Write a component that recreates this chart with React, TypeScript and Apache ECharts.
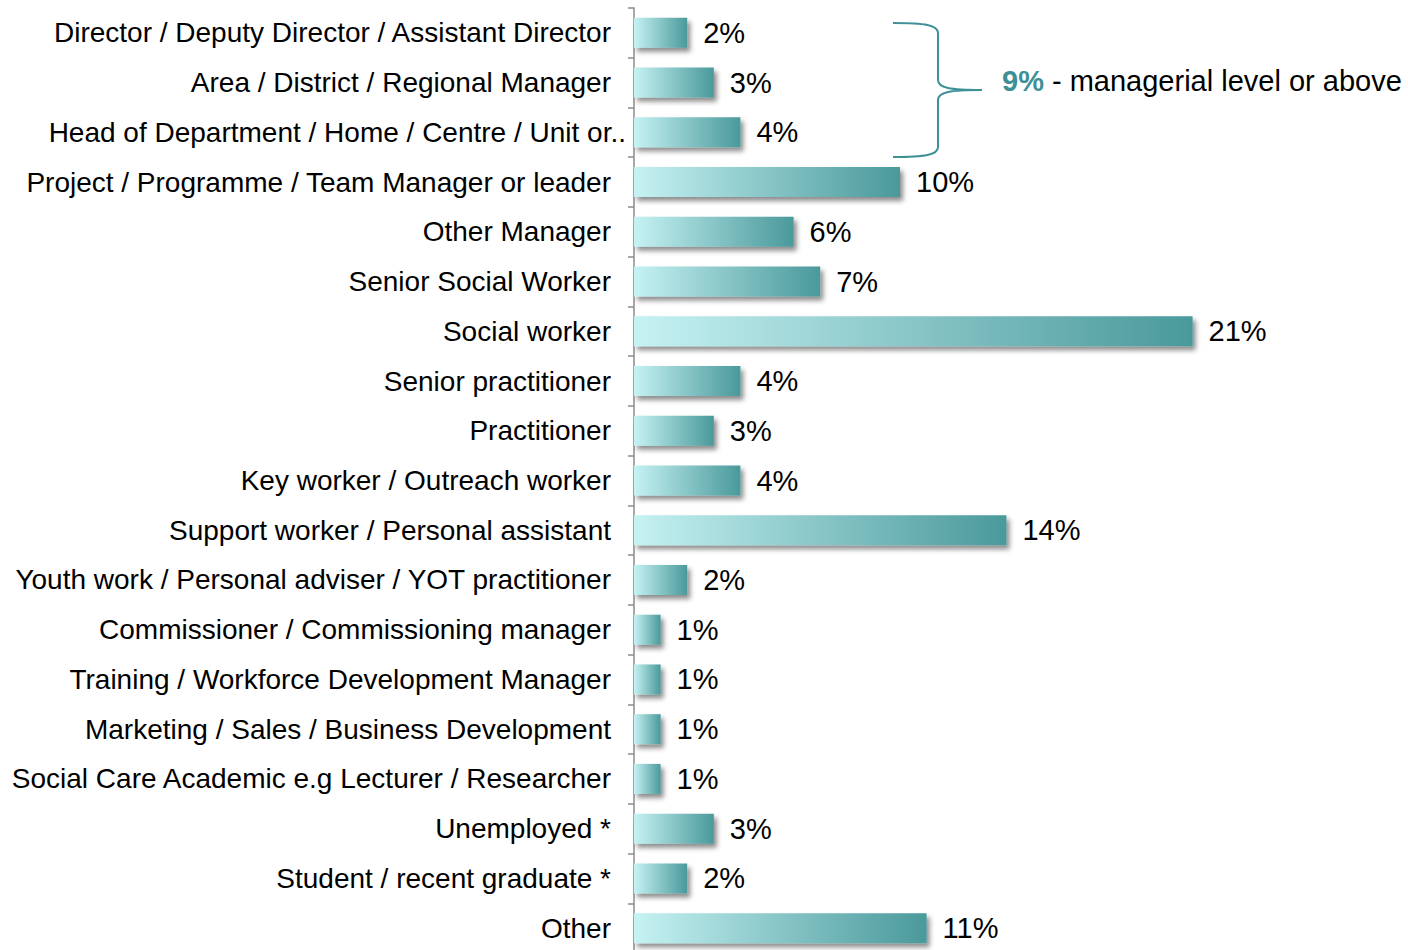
import React, { useEffect, useRef } from "react";
import * as echarts from "echarts";

const categories: string[] = [
  "Director / Deputy Director / Assistant Director",
  "Area / District / Regional Manager",
  "Head of Department / Home / Centre / Unit or..",
  "Project / Programme / Team Manager or leader",
  "Other Manager",
  "Senior Social Worker",
  "Social worker",
  "Senior practitioner",
  "Practitioner",
  "Key worker / Outreach worker",
  "Support worker / Personal assistant",
  "Youth work / Personal adviser / YOT practitioner",
  "Commissioner / Commissioning manager",
  "Training / Workforce Development Manager",
  "Marketing / Sales / Business Development",
  "Social Care Academic e.g Lecturer / Researcher",
  "Unemployed *",
  "Student / recent graduate *",
  "Other",
];

const values: number[] = [2, 3, 4, 10, 6, 7, 21, 4, 3, 4, 14, 2, 1, 1, 1, 1, 3, 2, 11];

const annotationValue = "9%";
const annotationText = " - managerial level or above";

const bracePath =
  "M893,23 C925,23 938,25 938,33 L938,80 C938,88 950,90 982,90 C950,90 938,92 938,100 L938,147 C938,155 925,157 893,157";

const FONT = "'Liberation Sans', Arial, sans-serif";

export default function App() {
  const ref = useRef<HTMLDivElement>(null);

  useEffect(() => {
    if (!ref.current) return;
    echarts.graphic.registerShape("brace", echarts.graphic.extendPath(bracePath, {}) as any);
    const chart = echarts.init(ref.current, null, { renderer: "svg" });
    chart.setOption({
      animation: false,
      backgroundColor: "#ffffff",
      textStyle: { fontFamily: FONT },
      grid: { left: 634, top: 8, height: 945, width: 665 },
      xAxis: {
        type: "value",
        min: 0,
        max: 25,
        show: false,
        splitLine: { show: false },
      },
      yAxis: {
        type: "category",
        inverse: true,
        data: categories,
        axisLine: { show: true, lineStyle: { color: "#8c8c8c", width: 1.5 } },
        axisTick: { show: true, length: 6, lineStyle: { color: "#8c8c8c", width: 1.5 } },
        axisLabel: {
          color: "#000",
          fontSize: 28,
          fontFamily: FONT,
          margin: 23,
          formatter: (v: string, i: number) => (i === 2 ? `{h|${v}}` : v),
          rich: {
            h: { fontSize: 28, fontFamily: FONT, color: "#000", padding: [0, -15, 0, 0] },
          },
        },
      },
      series: [
        {
          type: "bar",
          data: values,
          barWidth: 30,
          itemStyle: {
            color: new echarts.graphic.LinearGradient(0, 0, 1, 0, [
              { offset: 0, color: "#c6f2f3" },
              { offset: 1, color: "#4a999b" },
            ]),
            shadowColor: "rgba(0,0,0,0.45)",
            shadowBlur: 5,
            shadowOffsetX: 3,
            shadowOffsetY: 4,
          },
          label: {
            show: true,
            position: "right",
            distance: 16,
            formatter: "{c}%",
            color: "#000",
            fontSize: 29,
            fontFamily: FONT,
          },
        },
      ],
      graphic: [
        {
          type: "brace",
          x: 0,
          y: 0,
          style: { fill: "none", stroke: "#3d9095", lineWidth: 2 },
        },
        {
          type: "text",
          x: 1002,
          y: 81,
          style: {
            text: `{a|${annotationValue}}{b|${annotationText}}`,
            verticalAlign: "middle",
            rich: {
              a: { fontSize: 29, fontWeight: "bold", fill: "#3d9095", fontFamily: FONT },
              b: { fontSize: 29, fill: "#000", fontFamily: FONT },
            },
          },
        },
      ],
    });
    return () => chart.dispose();
  }, []);

  return (
    <div
      ref={ref}
      style={{ position: "fixed", left: 0, top: 0, width: 1408, height: 960 }}
    />
  );
}
